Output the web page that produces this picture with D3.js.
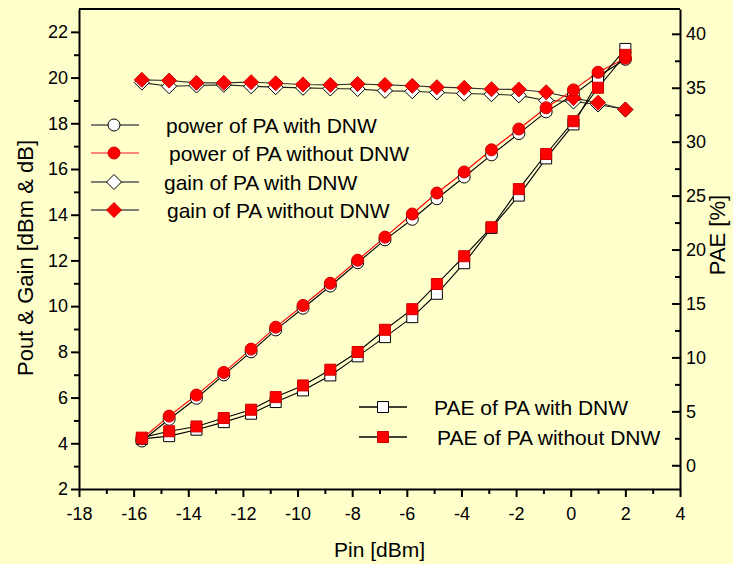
<!DOCTYPE html>
<html>
<head>
<meta charset="utf-8">
<script src="https://cdn.jsdelivr.net/npm/d3@7"></script>
<style>
  body { margin: 0; background: #ffffcc; }
  svg { display: block; font-family: "Liberation Sans", Arial, sans-serif; }
  .axis path, .axis line { stroke: #000; stroke-width: 2; }
  .axis text { font-size: 18px; fill: #000; }
</style>
</head>
<body>
<svg id="chart"></svg>
<script>
// input power (dBm)
const pin = [-15.7, -14.7, -13.7, -12.7, -11.7, -10.8, -9.8, -8.8, -7.8, -6.8,
             -5.8, -4.9, -3.9, -2.9, -1.9, -0.9, 0.1, 1.0, 2.0];

// output power (dBm)
const powerWith = [4.1, 5.05, 5.97, 6.99, 8.0, 8.96, 9.91, 10.88, 11.9, 12.9,
                   13.8, 14.7, 15.65, 16.62, 17.55, 18.5, 19.25, 20.05, 20.8];
const powerWithout = [4.2, 5.19, 6.11, 7.1, 8.12, 9.08, 10.03, 11.0, 12.01, 13.02,
                      14.03, 14.95, 15.87, 16.84, 17.75, 18.68, 19.46, 20.23, 20.85];

// gain (dB)
const gainWith = [19.78, 19.62, 19.65, 19.68, 19.62, 19.58, 19.55, 19.52, 19.5, 19.42,
                  19.4, 19.35, 19.3, 19.27, 19.22, 19.0, 18.95, 18.82, 18.6];
const gainWithout = [19.9, 19.87, 19.77, 19.77, 19.8, 19.75, 19.7, 19.68, 19.72, 19.68,
                     19.64, 19.58, 19.55, 19.49, 19.48, 19.36, 19.1, 18.9, 18.6];

// PAE (%)
const paeWith = [2.45, 2.7, 3.3, 4.0, 4.78, 5.86, 6.94, 8.33, 10.1, 11.88,
                 13.73, 15.9, 18.73, 22.0, 25.0, 28.45, 31.6, 35.6, 38.6];
const paeWithout = [2.56, 3.15, 3.6, 4.38, 5.15, 6.32, 7.4, 8.86, 10.5, 12.56,
                    14.47, 16.8, 19.38, 22.07, 25.6, 28.86, 31.9, 35.0, 38.05];

// tick values
const xTicks = [-18, -16, -14, -12, -10, -8, -6, -4, -2, 0, 2, 4];
const leftTicks = [2, 4, 6, 8, 10, 12, 14, 16, 18, 20, 22];
const rightTicks = [0, 5, 10, 15, 20, 25, 30, 35, 40];

const W = 733, H = 564;
const margin = {top: 9, right: 53, bottom: 75, left: 79};
const width = W - margin.left - margin.right;
const height = H - margin.top - margin.bottom;

const svg = d3.select('#chart').attr('width', W).attr('height', H);
svg.append('rect').attr('width', W).attr('height', H).attr('fill', '#ffffcc');

const chart = svg.append('g')
    .attr('transform', `translate(${margin.left},${margin.top})`);

const xScale = d3.scaleLinear().domain([-18, 4]).range([0, width]);
const yLeft = d3.scaleLinear().domain([2, 23]).range([height, 0]);
const yRight = d3.scaleLinear().domain([-2.2, 42.3]).range([height, 0]);

// plain hyphen for negatives, like the original
const fmt = d => String(d);

// minor ticks first, no labels
chart.append('g').attr('class', 'axis')
    .attr('transform', `translate(0,${height})`)
    .call(d3.axisBottom(xScale).tickValues(d3.range(-17, 4, 2)).tickSize(5).tickFormat(''))
    .call(g => g.select('.domain').remove());
chart.append('g').attr('class', 'axis')
    .call(d3.axisLeft(yLeft).tickValues(d3.range(3, 23, 2)).tickSize(5).tickFormat(''))
    .call(g => g.select('.domain').remove());
chart.append('g').attr('class', 'axis')
    .attr('transform', `translate(${width},0)`)
    .call(d3.axisRight(yRight).tickValues(d3.range(2.5, 42, 5)).tickSize(-5).tickFormat(''))
    .call(g => g.select('.domain').remove());

// major axes
chart.append('g').attr('class', 'axis')
    .attr('transform', `translate(0,${height})`)
    .call(d3.axisBottom(xScale).tickValues(xTicks).tickSize(8).tickSizeOuter(0).tickPadding(10).tickFormat(fmt));
chart.append('g').attr('class', 'axis')
    .call(d3.axisLeft(yLeft).tickValues(leftTicks).tickSize(8).tickSizeOuter(0).tickPadding(3).tickFormat(fmt));
chart.append('g').attr('class', 'axis')
    .attr('transform', `translate(${width},0)`)
    .call(d3.axisRight(yRight).tickValues(rightTicks).tickSize(-8).tickSizeOuter(0).tickPadding(6).tickFormat(fmt));

// top frame line
chart.append('line')
    .attr('x1', 0).attr('x2', width).attr('y1', 0).attr('y2', 0)
    .attr('stroke', '#000').attr('stroke-width', 2);

// axis titles
svg.append('text')
    .attr('x', margin.left + width / 2).attr('y', 557)
    .attr('text-anchor', 'middle').attr('font-size', 21)
    .text('Pin [dBm]');
svg.append('text')
    .attr('transform', 'translate(33,258) rotate(-90)')
    .attr('text-anchor', 'middle').attr('font-size', 22)
    .text('Pout & Gain [dBm & dB]');
svg.append('text')
    .attr('transform', 'translate(725,235) rotate(-90)')
    .attr('text-anchor', 'middle').attr('font-size', 22)
    .text('PAE [%]');

const series = [
    {name: 'gain of PA with DNW', values: gainWith, y: yLeft, shape: d3.symbolDiamond2, size: 15, fill: '#fff', line: '#222'},
    {name: 'gain of PA without DNW', values: gainWithout, y: yLeft, shape: d3.symbolDiamond2, size: 15, fill: '#ff0000', line: '#333'},
    {name: 'power of PA with DNW', values: powerWith, y: yLeft, shape: d3.symbolCircle, size: 12, fill: '#fff', line: '#000'},
    {name: 'power of PA without DNW', values: powerWithout, y: yLeft, shape: d3.symbolCircle, size: 12, fill: '#ff0000', line: '#ff0000'},
    {name: 'PAE of PA with DNW', values: paeWith, y: yRight, shape: d3.symbolSquare, size: 11, fill: '#fff', line: '#000'},
    {name: 'PAE of PA without DNW', values: paeWithout, y: yRight, shape: d3.symbolSquare, size: 11, fill: '#ff0000', line: '#000'}
];

// symbol area from nominal width
function symbolArea(shape, w) {
    if (shape === d3.symbolCircle) return Math.PI * (w / 2) * (w / 2);
    if (shape === d3.symbolSquare) return w * w;
    return w * w / 2; // diamond, w = diagonal
}
function symbolPath(s) {
    if (s.shape === d3.symbolDiamond2) {
        const r = s.size / 2;
        return `M0,${-r}L${r},0L0,${r}L${-r},0Z`;
    }
    return d3.symbol().type(s.shape).size(symbolArea(s.shape, s.size))();
}

// lines
series.forEach(s => {
    const line = d3.line().x((d, i) => xScale(pin[i])).y(d => s.y(d));
    chart.append('path')
        .datum(s.values)
        .attr('d', line)
        .attr('fill', 'none')
        .attr('stroke', s.line)
        .attr('stroke-width', 1.1);
});

// markers: "with" first, red ones on top
const order = [0, 2, 4, 1, 3, 5];
order.forEach(k => {
    const s = series[k];
    chart.append('g').selectAll('path')
        .data(s.values)
        .join('path')
        .attr('transform', (d, i) => `translate(${xScale(pin[i])},${s.y(d)})`)
        .attr('d', symbolPath(s))
        .attr('fill', s.fill)
        .attr('stroke', s.fill === '#fff' ? '#000' : '#d00000')
        .attr('stroke-width', 1);
});

// legends
const legend1 = [
    {s: series[2], y: 125, line: '#555', tx: 166},
    {s: series[3], y: 153, line: '#ff6060', tx: 169},
    {s: series[0], y: 182, line: '#555', tx: 164},
    {s: series[1], y: 210, line: '#555', tx: 167}
];
const legend2 = [
    {s: series[4], y: 407, line: '#000', tx: 434},
    {s: series[5], y: 437, line: '#000', tx: 437}
];

function drawLegend(items, x0, x1, xm) {
    items.forEach(it => {
        const g = svg.append('g');
        g.append('line')
            .attr('x1', x0).attr('x2', x1).attr('y1', it.y).attr('y2', it.y)
            .attr('stroke', it.line).attr('stroke-width', 1.5);
        g.append('path')
            .attr('transform', `translate(${xm},${it.y})`)
            .attr('d', symbolPath(it.s))
            .attr('fill', it.s.fill)
            .attr('stroke', it.s.fill === '#fff' ? '#000' : '#d00000');
        g.append('text')
            .attr('x', it.tx).attr('y', it.y + 8)
            .attr('font-size', 21)
            .text(it.s.name);
    });
}
drawLegend(legend1, 91, 139, 114);
drawLegend(legend2, 359, 407, 383);
</script>
</body>
</html>
